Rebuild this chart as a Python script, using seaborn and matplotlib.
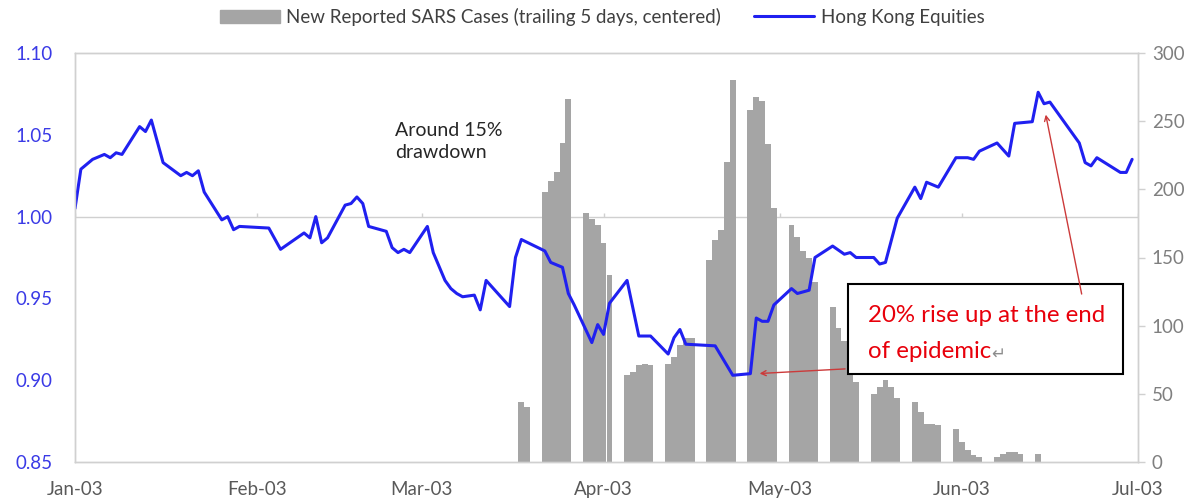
import pandas as pd
import numpy as np
import seaborn as sns
import matplotlib.pyplot as plt
from matplotlib.patches import Patch, Rectangle
from matplotlib.lines import Line2D

# x values are days since 1 Jan 2003
# new reported SARS cases (trailing 5 days, centered), weekdays only
bar_day = [76, 77,
           80, 81, 82, 83, 84,
           87, 88, 89, 90, 91,
           94, 95, 96, 97, 98,
           101, 102, 103, 104, 105,
           108, 109, 110, 111, 112,
           115, 116, 117, 118, 119,
           122, 123, 124, 125, 126,
           129, 130, 131, 132, 133,
           136, 137, 138, 139, 140,
           143, 144, 145, 146, 147,
           150, 151, 152, 153, 154,
           157, 158, 159, 160, 161,
           164]
bar_val = [44, 40,
           198, 206, 213, 234, 266,
           183, 178, 174, 161, 137,
           64, 66, 71, 72, 71,
           72, 77, 86, 91, 91,
           148, 163, 170, 220, 280,
           258, 268, 265, 233, 186,
           174, 165, 155, 150, 132,
           114, 98, 89, 80, 59,
           50, 55, 60, 55, 47,
           44, 37, 28, 28, 27,
           24, 15, 9, 5, 4,
           4, 6, 7, 7, 6,
           6]

# Hong Kong equities, rebased
line_day = [0, 1, 3, 5, 6, 7, 8, 11, 12, 13, 15, 18, 19, 20, 21, 22, 25, 26, 27, 28,
            33, 35, 39, 40, 41, 42, 43, 46, 47, 48, 49, 50, 53, 54, 55, 56, 57, 60, 61, 63,
            64, 65, 66, 68, 69, 70, 74, 75, 76, 80, 81, 83, 84, 85, 88, 89, 90, 91, 94, 96,
            98, 101, 102, 103, 104, 109, 112, 115, 116, 117, 118, 119, 122, 123, 125, 126, 129, 131, 132, 133,
            136, 137, 138, 140, 143, 144, 145, 147, 150, 152, 153, 154, 157, 159, 160, 163, 164, 165, 166, 171,
            172, 173, 174, 178, 179, 180]
line_val = [1.005, 1.029, 1.035, 1.038, 1.036, 1.039, 1.038, 1.055, 1.052, 1.059, 1.033, 1.025, 1.027, 1.025, 1.028, 1.015, 0.998, 1.000, 0.992, 0.994,
            0.993, 0.980, 0.990, 0.987, 1.000, 0.984, 0.987, 1.007, 1.008, 1.012, 1.008, 0.994, 0.991, 0.981, 0.978, 0.980, 0.978, 0.994, 0.978, 0.961,
            0.956, 0.953, 0.951, 0.952, 0.943, 0.961, 0.945, 0.975, 0.986, 0.979, 0.972, 0.969, 0.953, 0.946, 0.923, 0.934, 0.928, 0.947, 0.961, 0.927,
            0.927, 0.916, 0.926, 0.931, 0.922, 0.921, 0.903, 0.904, 0.938, 0.936, 0.936, 0.946, 0.956, 0.953, 0.955, 0.975, 0.982, 0.977, 0.978, 0.975,
            0.975, 0.971, 0.972, 0.999, 1.018, 1.011, 1.021, 1.018, 1.036, 1.036, 1.035, 1.040, 1.045, 1.037, 1.057, 1.058, 1.076, 1.069, 1.070, 1.045,
            1.033, 1.031, 1.036, 1.027, 1.027, 1.035]

start = pd.Timestamp('2003-01-01')
months = pd.date_range('2003-01-01', '2003-07-01', freq='MS')
month_day = (months - start).days
month_lbl = months.strftime('%b-%y')

left_ticks = [0.85, 0.90, 0.95, 1.00, 1.05, 1.10]
right_ticks = [0, 50, 100, 150, 200, 250, 300]

bar_color = '#a5a5a5'
line_color = '#2020f0'
grid = '#d0d0d0'

sns.set_style('white')
plt.rcParams['font.family'] = ['Lato', 'DejaVu Sans']

fig, ax = plt.subplots(figsize=(11.93, 5.03), dpi=100)
fig.subplots_adjust(left=75/1193, right=1138/1193, bottom=1-462/503, top=1-53/503)
ax2 = ax.twinx()

sns.barplot(x=bar_day, y=bar_val, native_scale=True, width=1, color=bar_color,
            saturation=1, linewidth=0, errorbar=None, ax=ax2)
ax2.axhline(180, color=grid, lw=1, zorder=0)
ax2.vlines(month_day, 180, 183, color=grid, lw=1, zorder=0)

sns.lineplot(x=line_day, y=line_val, color=line_color, lw=2.2, ax=ax)
ax.set_zorder(ax2.get_zorder() + 1)
ax.patch.set_visible(False)

ax.set_xlim(0, 181)
ax.set_ylim(0.85, 1.10)
ax2.set_ylim(0, 300)
ax.set_xlabel('')
ax.set_ylabel('')
ax2.set_xlabel('')
ax2.set_ylabel('')

ax.set_xticks(month_day, month_lbl)
ax.tick_params(axis='x', length=0, pad=14, labelsize=13.5, labelcolor='#595959')
ax.set_yticks(left_ticks, [f'{v:.2f}' for v in left_ticks])
ax.set_yticks([0.85, 1.00, 1.10], minor=True)
ax.tick_params(axis='y', which='major', length=0, pad=16, labelsize=13.5, labelcolor='#3a3ae6')
ax.tick_params(axis='y', which='minor', left=True, length=6, width=1, color=grid)
ax2.set_yticks(right_ticks)
ax2.tick_params(axis='y', right=True, length=5, width=1, color=grid, pad=5,
                labelsize=13.5, labelcolor='#7f7f7f')

for a in (ax, ax2):
    for s in a.spines.values():
        s.set_color(grid)
        s.set_linewidth(1)

# annotations
ax.text(54.5, 1.058, 'Around 15%\ndrawdown', va='top', ha='left', fontsize=14,
        color='#262626', linespacing=1.4)
ax.add_patch(Rectangle((131.6, 0.904), 178.4 - 131.6, 0.959 - 0.904, facecolor='white',
                       edgecolor='black', lw=1.5, zorder=5))
ax.text(135.0, 0.9356, '20% rise up at the end', va='baseline', ha='left',
        fontsize=17.3, color='#e8000b', zorder=6)
t2 = ax.text(135.0, 0.9136, 'of epidemic', va='baseline', ha='left',
             fontsize=17.3, color='#e8000b', zorder=6)
ax.annotate('\u21b5', xy=(1, 0), xycoords=t2, va='bottom', ha='left',
            fontsize=12, color='#8c8c8c', zorder=6)
arrow = dict(arrowstyle='->', color='#cc3a3a', lw=1, mutation_scale=9)
ax.annotate('', xy=(116.1, 0.904), xytext=(131.6, 0.907), arrowprops=arrow, zorder=7)
ax.annotate('', xy=(165.2, 1.064), xytext=(171.5, 0.951), arrowprops=arrow, zorder=7)

handles = [Patch(color=bar_color), Line2D([], [], color=line_color, lw=2.2)]
labels = ['New Reported SARS Cases (trailing 5 days, centered)', 'Hong Kong Equities']
fig.legend(handles, labels, loc='center', bbox_to_anchor=(602/1193, 1-17/503), ncol=2,
           frameon=False, fontsize=13.5, handlelength=3.2, columnspacing=1.75,
           handletextpad=0.35, labelcolor='#404040')

fig.savefig('out.png', dpi=100)
